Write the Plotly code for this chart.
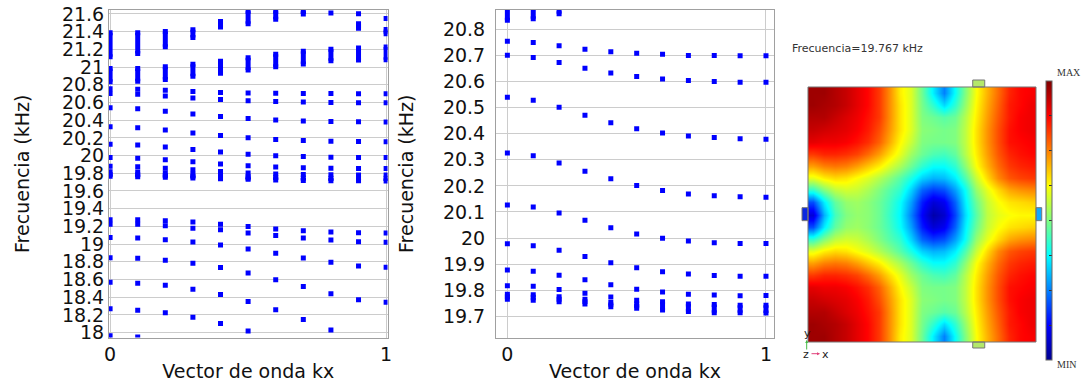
import plotly.graph_objects as go

W, H = 1081, 383

# ---------------- data ----------------
KX = [0.0, 0.1, 0.2, 0.3, 0.4, 0.5, 0.6, 0.7, 0.8, 0.9, 1.0]

# modes between 19.7 and 20.8 kHz (shown in both panels)
MODE_A = [20.754, 20.749, 20.737, 20.724, 20.714, 20.708, 20.704, 20.700, 20.700, 20.699, 20.699]
MODE_B = [20.701, 20.692, 20.673, 20.651, 20.633, 20.619, 20.610, 20.604, 20.600, 20.597, 20.597]
MODE_C = [20.540, 20.528, 20.501, 20.471, 20.442, 20.419, 20.403, 20.391, 20.385, 20.381, 20.379]
MODE_D = [20.326, 20.315, 20.288, 20.256, 20.227, 20.201, 20.182, 20.169, 20.162, 20.158, 20.156]
MODE_E = [20.127, 20.119, 20.096, 20.068, 20.040, 20.016, 19.999, 19.989, 19.982, 19.979, 19.979]
MODE_F = [19.978, 19.971, 19.953, 19.929, 19.905, 19.886, 19.871, 19.862, 19.857, 19.854, 19.854]
MODE_G = [19.878, 19.873, 19.858, 19.840, 19.821, 19.804, 19.793, 19.785, 19.782, 19.779, 19.780]
MODE_H = [19.817, 19.815, 19.803, 19.789, 19.774, 19.762, None, None, None, None, None]

# dense cluster of modes near 19.75 kHz (low / high edge)
CLUSTER_LO = [19.766, 19.762, 19.756, 19.747, 19.737, 19.731, 19.724, 19.719, 19.714, 19.714, 19.713]
CLUSTER_HI = [19.785, 19.783, 19.775, 19.766, 19.753, 19.747, 19.756, 19.747, 19.745, 19.743, 19.743]

# dense bands above 20.8 kHz
BAND_MID_LO = [20.835, 20.840, 20.860, 20.895, 20.930, 20.967, 21.004, 21.034, 21.072, 21.079, 21.083]
BAND_MID_HI = [20.984, 20.984, 21.003, 21.033, 21.067, 21.104, 21.145, 21.179, 21.201, 21.216, 21.227]
BAND_UP_LO = [21.117, 21.154, 21.229, 21.333, 21.453, None, None, None, None, 21.438, 21.378]
BAND_UP_HI = [21.388, 21.388, 21.403, 21.422, 21.515, None, None, None, None, 21.489, 21.425]
BAND_TOP_LO = [None, None, None, None, None, 21.490, 21.540, 21.600, None, None, None]
BAND_TOP_HI = [None, None, None, None, None, 21.630, 21.630, 21.630, None, None, None]
HIGH_PT = [None, None, None, None, None, None, None, None, 21.611, 21.602, 21.548]

# modes below 19.7 kHz (left panel only)
LOW_A = [19.274, 19.274, 19.263, 19.248, 19.225, 19.199, 19.169, 19.150, 19.135, 19.128, 19.124]
LOW_B = [19.225, 19.225, 19.206, 19.180, 19.161, 19.124, 19.098, 19.068, 19.045, 19.026, 19.019]
LOW_C = [19.075, 19.068, 19.049, 19.023, 18.989, 18.944, 18.895, 18.842, 18.794, 18.752, 18.737]
LOW_D = [18.846, 18.839, 18.816, 18.782, 18.734, 18.674, 18.598, 18.520, 18.437, 18.370, 18.343]
LOW_E = [18.568, 18.557, 18.535, 18.490, 18.430, 18.351, 18.257, 18.148, 18.028, None, None]
LOW_F = [18.268, 18.253, 18.223, 18.174, 18.103, 18.017, None, None, None, None, None]
LOW_G = [17.963, 17.950, None, None, None, None, None, None, None, None, None]

LEFT_TICKS = [18, 18.2, 18.4, 18.6, 18.8, 19, 19.2, 19.4, 19.6, 19.8, 20, 20.2, 20.4, 20.6, 20.8, 21, 21.2, 21.4, 21.6]
LEFT_TICKTEXT = ["18", "18.2", "18.4", "18.6", "18.8", "19", "19.2", "19.4", "19.6", "19.8", "20",
                 "20.2", "20.4", "20.6", "20.8", "21", "21.2", "21.4", "21.6"]
RIGHT_TICKS = [19.7, 19.8, 19.9, 20.0, 20.1, 20.2, 20.3, 20.4, 20.5, 20.6, 20.7, 20.8]
RIGHT_TICKTEXT = ["19.7", "19.8", "19.9", "20", "20.1", "20.2", "20.3", "20.4", "20.5", "20.6", "20.7", "20.8"]
X_TICKS = [0, 1]

# displacement field of the mode at 19.767 kHz (normalised 0=MIN .. 1=MAX), rows top -> bottom
FIELD_X = [i / 20 for i in range(21)]
FIELD_Y = [i / 20 for i in range(21)]
FIELD = [
    [0.97, 0.97, 0.95, 0.93, 0.90, 0.87, 0.82, 0.74, 0.64, 0.59, 0.48, 0.36, 0.25, 0.38, 0.50, 0.62, 0.70, 0.77, 0.84, 0.87, 0.88],
    [0.97, 0.96, 0.95, 0.93, 0.90, 0.87, 0.82, 0.74, 0.65, 0.59, 0.49, 0.42, 0.34, 0.42, 0.52, 0.63, 0.71, 0.78, 0.85, 0.87, 0.89],
    [0.95, 0.95, 0.93, 0.91, 0.89, 0.86, 0.82, 0.74, 0.65, 0.59, 0.50, 0.48, 0.46, 0.48, 0.55, 0.64, 0.72, 0.79, 0.85, 0.88, 0.89],
    [0.93, 0.92, 0.91, 0.90, 0.88, 0.85, 0.80, 0.73, 0.65, 0.59, 0.51, 0.50, 0.49, 0.50, 0.56, 0.65, 0.73, 0.80, 0.86, 0.88, 0.89],
    [0.90, 0.89, 0.89, 0.88, 0.86, 0.83, 0.78, 0.71, 0.63, 0.57, 0.50, 0.49, 0.49, 0.50, 0.56, 0.65, 0.73, 0.80, 0.86, 0.87, 0.88],
    [0.82, 0.84, 0.84, 0.83, 0.81, 0.77, 0.72, 0.66, 0.60, 0.53, 0.48, 0.45, 0.44, 0.47, 0.55, 0.64, 0.72, 0.79, 0.84, 0.86, 0.87],
    [0.72, 0.75, 0.76, 0.75, 0.72, 0.68, 0.64, 0.59, 0.54, 0.48, 0.42, 0.38, 0.38, 0.42, 0.51, 0.62, 0.70, 0.77, 0.82, 0.84, 0.85],
    [0.60, 0.64, 0.66, 0.65, 0.62, 0.59, 0.55, 0.51, 0.46, 0.40, 0.33, 0.30, 0.31, 0.36, 0.45, 0.57, 0.66, 0.74, 0.79, 0.81, 0.82],
    [0.42, 0.50, 0.56, 0.58, 0.57, 0.54, 0.50, 0.46, 0.42, 0.33, 0.22, 0.18, 0.20, 0.28, 0.38, 0.52, 0.60, 0.66, 0.71, 0.73, 0.74],
    [0.20, 0.36, 0.47, 0.52, 0.53, 0.51, 0.48, 0.44, 0.38, 0.28, 0.15, 0.08, 0.11, 0.22, 0.36, 0.48, 0.57, 0.62, 0.65, 0.66, 0.67],
    [0.08, 0.30, 0.44, 0.50, 0.52, 0.51, 0.48, 0.43, 0.37, 0.25, 0.12, 0.03, 0.07, 0.19, 0.34, 0.46, 0.56, 0.60, 0.62, 0.63, 0.63],
    [0.20, 0.36, 0.47, 0.52, 0.53, 0.51, 0.48, 0.44, 0.38, 0.28, 0.15, 0.08, 0.11, 0.22, 0.36, 0.48, 0.57, 0.62, 0.65, 0.66, 0.67],
    [0.42, 0.50, 0.56, 0.58, 0.57, 0.54, 0.50, 0.46, 0.42, 0.33, 0.22, 0.18, 0.20, 0.28, 0.38, 0.52, 0.60, 0.66, 0.71, 0.73, 0.74],
    [0.60, 0.64, 0.66, 0.65, 0.62, 0.59, 0.55, 0.51, 0.46, 0.40, 0.33, 0.30, 0.31, 0.36, 0.45, 0.57, 0.66, 0.74, 0.79, 0.81, 0.82],
    [0.72, 0.75, 0.76, 0.75, 0.72, 0.68, 0.64, 0.59, 0.54, 0.48, 0.42, 0.38, 0.38, 0.42, 0.51, 0.62, 0.70, 0.77, 0.82, 0.84, 0.85],
    [0.82, 0.84, 0.84, 0.83, 0.81, 0.77, 0.72, 0.66, 0.60, 0.53, 0.48, 0.45, 0.44, 0.47, 0.55, 0.64, 0.72, 0.79, 0.84, 0.86, 0.87],
    [0.90, 0.89, 0.89, 0.88, 0.86, 0.83, 0.78, 0.71, 0.63, 0.57, 0.50, 0.49, 0.49, 0.50, 0.56, 0.65, 0.73, 0.80, 0.86, 0.87, 0.88],
    [0.93, 0.92, 0.91, 0.90, 0.88, 0.85, 0.80, 0.73, 0.65, 0.59, 0.51, 0.50, 0.49, 0.50, 0.56, 0.65, 0.73, 0.80, 0.86, 0.88, 0.89],
    [0.95, 0.95, 0.93, 0.91, 0.89, 0.86, 0.82, 0.74, 0.65, 0.59, 0.50, 0.48, 0.46, 0.48, 0.55, 0.64, 0.72, 0.79, 0.85, 0.88, 0.89],
    [0.97, 0.96, 0.95, 0.93, 0.90, 0.87, 0.82, 0.74, 0.65, 0.59, 0.49, 0.42, 0.34, 0.42, 0.52, 0.63, 0.71, 0.78, 0.85, 0.87, 0.89],
    [0.97, 0.97, 0.95, 0.93, 0.90, 0.87, 0.82, 0.74, 0.64, 0.59, 0.48, 0.36, 0.25, 0.38, 0.50, 0.62, 0.70, 0.77, 0.84, 0.87, 0.88],
]

# ---------------- helpers ----------------
BLUE = "#0000ff"
FONT = "DejaVu Sans"


def px_x(p):
    return p / W


def px_y(p):
    return 1 - p / H


def point_xy(series_list):
    xs, ys = [], []
    for s in series_list:
        for k, v in zip(KX, s):
            if v is not None:
                xs.append(k)
                ys.append(v)
    return xs, ys


def band_xy(pairs):
    xs, ys = [], []
    for lo_s, hi_s in pairs:
        for k, lo, hi in zip(KX, lo_s, hi_s):
            if lo is None:
                continue
            xs += [k, k, None]
            ys += [lo, hi, None]
    return xs, ys


MID = [MODE_A, MODE_B, MODE_C, MODE_D, MODE_E, MODE_F, MODE_G, MODE_H]
LOW = [LOW_A, LOW_B, LOW_C, LOW_D, LOW_E, LOW_F, LOW_G]

fig = go.Figure()

marker = dict(symbol="square", size=5, color=BLUE, line=dict(width=0))

# left panel
lx, ly = point_xy(MID + LOW + [HIGH_PT])
fig.add_trace(go.Scatter(x=lx, y=ly, mode="markers", marker=marker, xaxis="x", yaxis="y", showlegend=False))
bx, by = band_xy([(CLUSTER_LO, CLUSTER_HI), (BAND_MID_LO, BAND_MID_HI), (BAND_UP_LO, BAND_UP_HI),
                  (BAND_TOP_LO, BAND_TOP_HI)])
fig.add_trace(go.Scatter(x=bx, y=by, mode="lines+markers", marker=marker, line=dict(color=BLUE, width=5),
                         xaxis="x", yaxis="y", showlegend=False))

# right panel
rx, ry = point_xy(MID)
fig.add_trace(go.Scatter(x=rx, y=ry, mode="markers", marker=marker, xaxis="x2", yaxis="y2", showlegend=False))
bx2, by2 = band_xy([(CLUSTER_LO, CLUSTER_HI), (BAND_MID_LO, BAND_MID_HI)])
fig.add_trace(go.Scatter(x=bx2, y=by2, mode="lines+markers", marker=marker, line=dict(color=BLUE, width=5),
                         xaxis="x2", yaxis="y2", showlegend=False))

# field
JET = [[0.0, "#00008f"], [0.125, "#0000ff"], [0.375, "#00ffff"], [0.5, "#80ff80"],
       [0.625, "#ffff00"], [0.875, "#ff0000"], [1.0, "#800000"]]
fig.add_trace(go.Heatmap(
    z=FIELD, x=FIELD_X, y=FIELD_Y, colorscale=JET, zmin=0, zmax=1, zsmooth="best",
    xaxis="x3", yaxis="y3", hoverinfo="skip",
    colorbar=dict(thickness=6, thicknessmode="pixels", len=279, lenmode="pixels",
                  x=px_x(1046), xanchor="left", xpad=0, y=px_y(220.5), yanchor="middle", ypad=0,
                  outlinewidth=1, outlinecolor="#666666", showticklabels=False,
                  ticks="inside", ticklen=3, tickcolor="#333333",
                  tickvals=[0.125, 0.25, 0.375, 0.5, 0.625, 0.75, 0.875]),
))

axis_common = dict(showline=True, linecolor="#a0a0a0", linewidth=1, mirror=True, automargin=False,
                   showgrid=True, gridcolor="#cccccc", gridwidth=1, zeroline=False, ticks="",
                   tickfont=dict(family=FONT, size=19, color="#111111"))
title_font = dict(family=FONT, size=19, color="#111111")

ydom = [px_y(337.5), px_y(10)]
fig.update_layout(
    width=W, height=H, margin=dict(l=0, r=0, t=0, b=0, autoexpand=False),
    paper_bgcolor="white", plot_bgcolor="white", showlegend=False,
    xaxis=dict(axis_common, domain=[px_x(109), px_x(387.5)], range=[-0.004, 1.005], tickvals=X_TICKS,
               anchor="y", title=dict(text="Vector de onda kx", font=title_font, standoff=0)),
    yaxis=dict(axis_common, domain=ydom, range=[17.944, 21.645], tickvals=LEFT_TICKS, ticktext=LEFT_TICKTEXT,
               anchor="x", title=dict(text="Frecuencia (kHz)", font=title_font, standoff=27)),
    xaxis2=dict(axis_common, domain=[px_x(496), px_x(774)], range=[-0.044, 1.031], tickvals=X_TICKS,
                anchor="y2", title=dict(text="Vector de onda kx", font=title_font, standoff=0)),
    yaxis2=dict(axis_common, domain=ydom, range=[19.619, 20.874], tickvals=RIGHT_TICKS, ticktext=RIGHT_TICKTEXT,
                anchor="x2", ticklabelstandoff=6,
                title=dict(text="Frecuencia (kHz)", font=title_font, standoff=24)),
    xaxis3=dict(domain=[px_x(800), px_x(1044)], range=[-0.0618, 1.0618], visible=False, anchor="y3"),
    yaxis3=dict(domain=[px_y(350), px_y(79)], range=[1.0579, -0.0579], visible=False, anchor="x3"),
)

# tabs and frame of the field plate
tabs = [
    dict(x0=0.7336, x1=0.7889, y0=-0.0538, y1=-0.025, fill="#b4e86a"),
    dict(x0=0.7336, x1=0.7889, y0=1.025, y1=1.0497, fill="#b4e86a"),
    dict(x0=-0.0526, x1=-0.025, y0=0.4719, y1=0.5254, fill="#0a28e0"),
    dict(x0=1.025, x1=1.0513, y0=0.4719, y1=0.5254, fill="#10a8ff"),
]
for t in tabs:
    fig.add_shape(type="rect", xref="x3", yref="y3", x0=t["x0"], x1=t["x1"], y0=t["y0"], y1=t["y1"],
                  fillcolor=t["fill"], line=dict(color="#777777", width=1), layer="above")
fig.add_shape(type="rect", xref="x3", yref="y3", x0=-0.025, x1=1.025, y0=-0.025, y1=1.025,
              line=dict(color="#777777", width=1), layer="above")

ann = [
    dict(text="Frecuencia=19.767 kHz", x=px_x(790), y=px_y(49), xanchor="left", yanchor="middle",
         font=dict(family=FONT, size=11, color="#333333")),
    dict(text="MAX", x=px_x(1055), y=px_y(72), xanchor="left", yanchor="middle",
         font=dict(family="Liberation Serif", size=10, color="#333333")),
    dict(text="MIN", x=px_x(1055), y=px_y(364), xanchor="left", yanchor="middle",
         font=dict(family="Liberation Serif", size=10, color="#333333")),
    dict(text="y", x=px_x(807), y=px_y(333), xanchor="center", yanchor="middle",
         font=dict(family=FONT, size=11, color="#222222")),
    dict(text="z", x=px_x(806), y=px_y(354), xanchor="center", yanchor="middle",
         font=dict(family=FONT, size=11, color="#222222")),
    dict(text="x", x=px_x(825), y=px_y(354), xanchor="center", yanchor="middle",
         font=dict(family=FONT, size=11, color="#222222")),
]
for a in ann:
    fig.add_annotation(xref="paper", yref="paper", showarrow=False, **a)
fig.add_annotation(xref="paper", yref="paper", x=px_x(806.7), y=px_y(340), ax=0, ay=11, text="",
                   showarrow=True, arrowhead=2, arrowsize=0.6, arrowwidth=1, arrowcolor="#44bb44")
fig.add_annotation(xref="paper", yref="paper", x=px_x(820), y=px_y(353.7), ax=-10, ay=0, text="",
                   showarrow=True, arrowhead=2, arrowsize=0.6, arrowwidth=1, arrowcolor="#e0407a")

fig.write_html("out.html")
